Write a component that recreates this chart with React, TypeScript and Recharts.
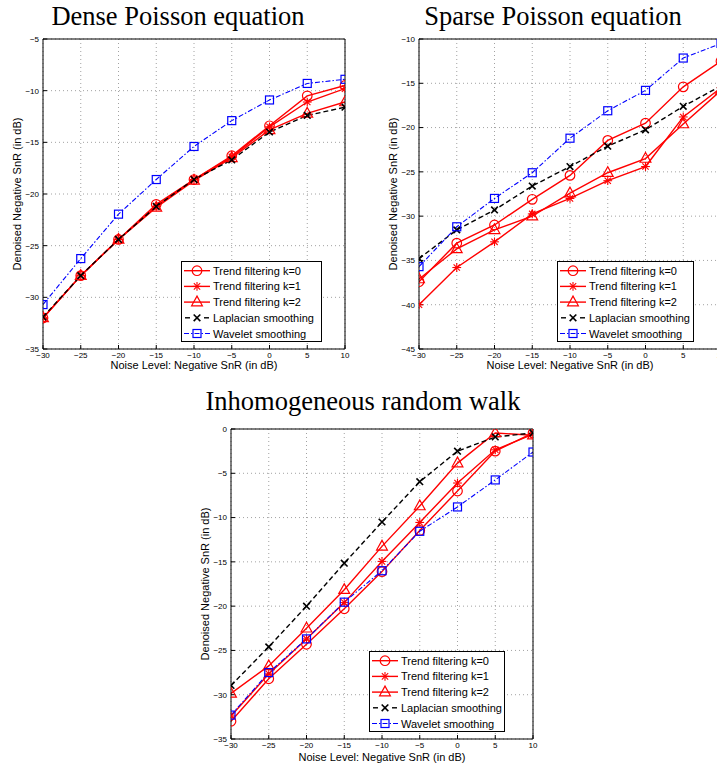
import React from 'react';
import { LineChart, Line, XAxis, YAxis, CartesianGrid, Legend } from 'recharts';

// ---------- data ----------
const noiseLevels = [-30, -25, -20, -15, -10, -5, 0, 5, 10];
const seriesNames = [
  'Trend filtering k=0',
  'Trend filtering k=1',
  'Trend filtering k=2',
  'Laplacian smoothing',
  'Wavelet smoothing',
];

const denseK0 = [-32.0, -27.9, -24.4, -21.0, -18.6, -16.3, -13.4, -10.5, -9.5];
const denseK1 = [-32.0, -27.9, -24.4, -21.2, -18.6, -16.4, -13.5, -11.1, -9.8];
const denseK2 = [-32.0, -27.9, -24.4, -21.3, -18.7, -16.5, -13.8, -12.2, -11.1];
const denseLap = [-31.9, -27.9, -24.4, -21.2, -18.6, -16.7, -14.0, -12.4, -11.6];
const denseWav = [-30.7, -26.25, -21.95, -18.6, -15.4, -12.9, -10.9, -9.3, -8.9];
const denseYTicks = [-35, -30, -25, -20, -15, -10, -5];

const sparseK0 = [-37.4, -33.05, -31.0, -28.1, -25.4, -21.45, -19.5, -15.4, -12.5];
const sparseK1 = [-40.0, -35.8, -32.9, -29.75, -28.0, -26.0, -24.4, -18.8, -15.5];
const sparseK2 = [-37.1, -33.7, -31.55, -30.0, -27.4, -25.1, -23.5, -19.6, -15.8];
const sparseLap = [-34.8, -31.55, -29.3, -26.6, -24.4, -22.1, -20.25, -17.6, -15.3];
const sparseWav = [-35.7, -31.2, -28.0, -25.1, -21.2, -18.1, -15.8, -12.15, -10.5];
const sparseYTicks = [-45, -40, -35, -30, -25, -20, -15, -10];

const inhomK0 = [-33.0, -28.2, -24.3, -20.3, -16.1, -11.45, -7.0, -2.5, -0.45];
const inhomK1 = [-32.4, -27.65, -23.7, -19.6, -14.95, -10.55, -6.1, -2.35, -0.6];
const inhomK2 = [-29.85, -26.75, -22.5, -18.15, -13.25, -8.7, -3.85, -0.45, -0.7];
const inhomLap = [-28.95, -24.6, -20.0, -15.15, -10.5, -5.95, -2.5, -0.9, -0.45];
const inhomWav = [-32.3, -27.5, -23.7, -19.55, -16.0, -11.55, -8.8, -5.75, -2.6];
const inhomYTicks = [-35, -30, -25, -20, -15, -10, -5, 0];

// ---------- styles ----------
const FONT = '"Liberation Sans", Arial, Helvetica, sans-serif';
const SERIF = '"Liberation Serif", "Times New Roman", Times, serif';

type Kind = 'circle' | 'star' | 'triangle' | 'x' | 'square';
const STYLES: { kind: Kind; color: string; width: number; dash?: string }[] = [
  { kind: 'circle', color: '#ff0000', width: 1.4 },
  { kind: 'star', color: '#ff0000', width: 1.4 },
  { kind: 'triangle', color: '#ff0000', width: 1.4 },
  { kind: 'x', color: '#000000', width: 1.4, dash: '5 3' },
  { kind: 'square', color: '#0000ff', width: 1.1, dash: '5 2 1.5 2' },
];

const fmt = (v: number) => (v < 0 ? '\u2212' + Math.abs(v) : String(v));

function Marker({ cx, cy, kind, color }: { cx: number; cy: number; kind: Kind; color: string }) {
  if (cx == null || cy == null || isNaN(cx) || isNaN(cy)) return <g />;
  const sw = 1.2;
  switch (kind) {
    case 'circle':
      return <circle cx={cx} cy={cy} r={4.8} fill="none" stroke={color} strokeWidth={sw} />;
    case 'star': {
      const r = 4.4;
      const d = r * 0.72;
      return (
        <g stroke={color} strokeWidth={1.1}>
          <line x1={cx - r} y1={cy} x2={cx + r} y2={cy} />
          <line x1={cx} y1={cy - r} x2={cx} y2={cy + r} />
          <line x1={cx - d} y1={cy - d} x2={cx + d} y2={cy + d} />
          <line x1={cx - d} y1={cy + d} x2={cx + d} y2={cy - d} />
        </g>
      );
    }
    case 'triangle':
      return (
        <polygon
          points={`${cx},${cy - 6} ${cx - 5.4},${cy + 3.7} ${cx + 5.4},${cy + 3.7}`}
          fill="none"
          stroke={color}
          strokeWidth={sw}
        />
      );
    case 'x': {
      const r = 3.3;
      return (
        <g stroke={color} strokeWidth={1.6}>
          <line x1={cx - r} y1={cy - r} x2={cx + r} y2={cy + r} />
          <line x1={cx - r} y1={cy + r} x2={cx + r} y2={cy - r} />
        </g>
      );
    }
    case 'square':
      return <rect x={cx - 4} y={cy - 4} width={8} height={8} fill="none" stroke={color} strokeWidth={sw} />;
  }
  return <g />;
}

const dotFn = (kind: Kind, color: string) => (p: any) =>
  <Marker key={`m-${kind}-${p.index}`} cx={p.cx} cy={p.cy} kind={kind} color={color} />;

function LegendBox({ w, h }: { w: number; h: number }) {
  return (
    <svg width={w} height={h} style={{ display: 'block' }}>
      <rect x={0.5} y={0.5} width={w - 1} height={h - 1} fill="#fff" stroke="#000" strokeWidth={1} />
      {STYLES.map((s, i) => {
        const y = 9.7 + i * 15.7;
        let sample: React.ReactNode;
        if (s.kind === 'x') {
          sample = (
            <g stroke={s.color} strokeWidth={s.width}>
              <line x1={4} x2={9} y1={y} y2={y} />
              <line x1={23} x2={28} y1={y} y2={y} />
            </g>
          );
        } else {
          sample = (
            <line x1={3} x2={29} y1={y} y2={y} stroke={s.color} strokeWidth={s.width} strokeDasharray={s.dash} />
          );
        }
        return (
          <g key={i}>
            {sample}
            <Marker cx={16} cy={y} kind={s.kind} color={s.color} />
            <text x={32} y={y + 4} fontSize={11} fontFamily={FONT} fill="#000">
              {seriesNames[i]}
            </text>
          </g>
        );
      })}
    </svg>
  );
}

type PanelProps = {
  left: number;
  top: number;
  width: number;
  height: number;
  margin: { top: number; right: number; bottom: number; left: number };
  xAxisHeight: number;
  xTitleDy: number;
  yDomain: [number, number];
  yTicks: number[];
  values: number[][];
  legend: { left: number; top: number; w: number; h: number };
};

function Panel(props: PanelProps) {
  const { left, top, width, height, margin, xAxisHeight, xTitleDy, yDomain, yTicks, values, legend } = props;
  const data = noiseLevels.map((x, i) => {
    const row: any = { x };
    values.forEach((arr, j) => {
      row['s' + j] = arr[i];
    });
    return row;
  });

  const xTitle = (p: any) => {
    const vb = p.viewBox || { x: 0, y: 0, width: 0, height: 0 };
    return (
      <text x={vb.x + vb.width / 2} y={vb.y + xTitleDy} textAnchor="middle" fontSize={11} fontFamily={FONT} fill="#000">
        Noise Level: Negative SnR (in dB)
      </text>
    );
  };
  const yTitle = (p: any) => {
    const vb = p.viewBox || { x: 0, y: 0, width: 0, height: 0 };
    const tx = vb.x + vb.width - 22;
    const ty = vb.y + vb.height / 2;
    return (
      <text
        x={tx}
        y={ty}
        transform={`rotate(-90, ${tx}, ${ty})`}
        textAnchor="middle"
        fontSize={11}
        fontFamily={FONT}
        fill="#000"
      >
        Denoised Negative SnR (in dB)
      </text>
    );
  };

  const tickStyle = { fontSize: 8, fill: '#000', fontFamily: FONT };

  return (
    <div style={{ position: 'absolute', left, top }}>
      <LineChart width={width} height={height} data={data} margin={margin}>
        <CartesianGrid stroke="#8a8a8a" strokeDasharray="1 3" strokeWidth={0.8} />
        <XAxis
          dataKey="x"
          type="number"
          domain={[-30, 10]}
          ticks={noiseLevels}
          interval={0}
          allowDataOverflow
          tickFormatter={fmt}
          height={xAxisHeight}
          tickSize={-4}
          tickMargin={7.5}
          stroke="#000"
          tick={tickStyle}
          label={xTitle}
        />
        <XAxis
          xAxisId="top"
          orientation="top"
          dataKey="x"
          type="number"
          domain={[-30, 10]}
          ticks={noiseLevels}
          interval={0}
          allowDataOverflow
          height={1}
          tickSize={-4}
          tick={false}
          stroke="#000"
        />
        <YAxis
          type="number"
          domain={yDomain}
          ticks={yTicks}
          interval={0}
          allowDataOverflow
          tickFormatter={fmt}
          width={35}
          tickSize={-4}
          tickMargin={8}
          stroke="#000"
          tick={tickStyle}
          label={yTitle}
        />
        <YAxis
          yAxisId="r"
          orientation="right"
          type="number"
          domain={yDomain}
          ticks={yTicks}
          interval={0}
          allowDataOverflow
          width={1}
          tickSize={-4}
          tick={false}
          stroke="#000"
        />
        {STYLES.map((s, j) => (
          <Line
            key={j}
            dataKey={'s' + j}
            name={seriesNames[j]}
            type="linear"
            stroke={s.color}
            strokeWidth={s.width}
            strokeDasharray={s.dash}
            dot={dotFn(s.kind, s.color)}
            activeDot={false}
            isAnimationActive={false}
          />
        ))}
        <Legend
          layout="vertical"
          align="center"
          verticalAlign="middle"
          content={() => <LegendBox w={legend.w} h={legend.h} />}
          wrapperStyle={{ left: legend.left, top: legend.top, width: legend.w, height: legend.h }}
        />
      </LineChart>
    </div>
  );
}

function Title({ text, cx, baseline }: { text: string; cx: number; baseline: number }) {
  return (
    <div
      style={{
        position: 'absolute',
        left: cx - 200,
        width: 400,
        top: baseline - 22.2,
        textAlign: 'center',
        fontFamily: SERIF,
        fontSize: 26.5,
        lineHeight: 1,
        whiteSpace: 'nowrap',
        color: '#000',
      }}
    >
      {text}
    </div>
  );
}

export default function App() {
  return (
    <div
      style={{
        position: 'absolute',
        left: 0,
        top: 0,
        width: 717,
        height: 767,
        overflow: 'hidden',
        background: '#fff',
      }}
    >
      <Title text="Dense Poisson equation" cx={178} baseline={25} />
      <Title text="Sparse Poisson equation" cx={553} baseline={25} />
      <Title text="Inhomogeneous random walk" cx={363} baseline={410} />
      <Panel
        left={0}
        top={0}
        width={360}
        height={385}
        margin={{ top: 38, right: 14, bottom: 6, left: 8 }}
        xAxisHeight={30}
        xTitleDy={19.5}
        yDomain={[-35, -5]}
        yTicks={denseYTicks}
        values={[denseK0, denseK1, denseK2, denseLap, denseWav]}
        legend={{ left: 181, top: 261, w: 141, h: 81 }}
      />
      <Panel
        left={360}
        top={0}
        width={380}
        height={385}
        margin={{ top: 38, right: 18, bottom: 6, left: 24 }}
        xAxisHeight={30}
        xTitleDy={19.5}
        yDomain={[-45, -10]}
        yTicks={sparseYTicks}
        values={[sparseK0, sparseK1, sparseK2, sparseLap, sparseWav]}
        legend={{ left: 197, top: 261, w: 137, h: 81 }}
      />
      <Panel
        left={190}
        top={390}
        width={360}
        height={377}
        margin={{ top: 38, right: 16, bottom: 0, left: 6 }}
        xAxisHeight={28}
        xTitleDy={22}
        yDomain={[-35, 0]}
        yTicks={inhomYTicks}
        values={[inhomK0, inhomK1, inhomK2, inhomLap, inhomWav]}
        legend={{ left: 179, top: 261, w: 136, h: 81 }}
      />
    </div>
  );
}
